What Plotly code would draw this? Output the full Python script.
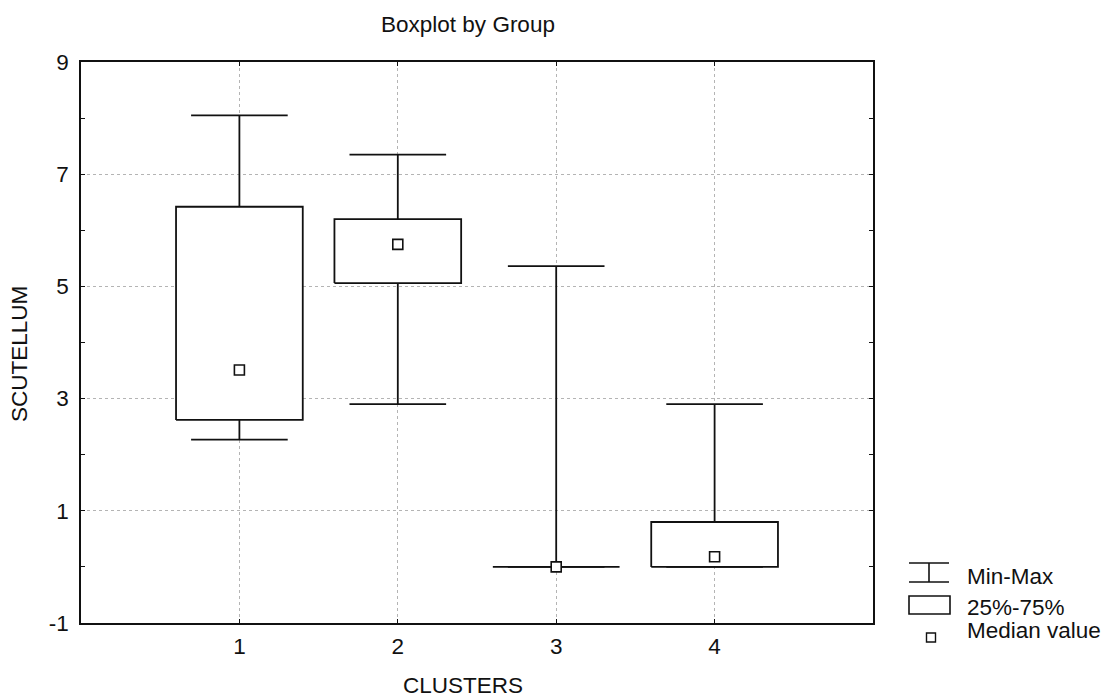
import plotly.graph_objects as go

# ---- data ----
clusters = [1, 2, 3, 4]
minimum = [2.27, 2.90, 0.0, 0.0]
q1 = [2.62, 5.06, 0.0, 0.0]
median = [3.51, 5.75, 0.0, 0.18]
q3 = [6.42, 6.20, 0.0, 0.80]
maximum = [8.05, 7.35, 5.36, 2.90]
y_tick_vals = [-1, 1, 3, 5, 7, 9]
y_tick_text = ["-1", "1", "3", "5", "7", "9"]
y_minor_ticks = [0, 2, 4, 6, 8]
x_tick_vals = [1, 2, 3, 4]
x_tick_text = ["1", "2", "3", "4"]

# ---- style constants ----
FONT = "Liberation Sans, Arial, Helvetica, sans-serif"
FS = 22.5
INK = "#111111"
BOX_HALF = 0.4
CAP_HALF = 0.305
LW = 1.8

W, H = 1107, 700
L, R, T, B = 81, 1107 - 873, 62, 700 - 623
PW, PH = W - L - R, H - T - B


def px_x(px):
    return (px - L) / PW


def px_y(py):
    return (H - B - py) / PH


fig = go.Figure()

# whiskers (upper: q3 -> max, lower: q1 -> min) with caps
wx, wy = [], []
for c, lo, a, b, hi in zip(clusters, minimum, q1, q3, maximum):
    wx += [c, c, None, c - CAP_HALF, c + CAP_HALF, None]
    wy += [b, hi, None, hi, hi, None]
    wx += [c, c, None, c - CAP_HALF, c + CAP_HALF, None]
    wy += [a, lo, None, lo, lo, None]
fig.add_trace(go.Scatter(x=wx, y=wy, mode="lines",
                         line=dict(color=INK, width=LW),
                         hoverinfo="skip", showlegend=False))

# boxes (25%-75%)
for c, a, b in zip(clusters, q1, q3):
    fig.add_trace(go.Scatter(
        x=[c - BOX_HALF, c + BOX_HALF, c + BOX_HALF, c - BOX_HALF, c - BOX_HALF],
        y=[a, a, b, b, a],
        mode="lines", fill="toself", fillcolor="white",
        line=dict(color=INK, width=LW),
        hoverinfo="skip", showlegend=False))

# medians
fig.add_trace(go.Scatter(x=clusters, y=median, mode="markers",
                         marker=dict(symbol="square", size=10, color="white",
                                     line=dict(color=INK, width=1.6)),
                         showlegend=False))

axis_common = dict(
    showline=True, linecolor=INK, linewidth=1.6, mirror="ticks",
    ticks="inside", ticklen=4, tickcolor=INK, tickwidth=1.2,
    showgrid=True, gridcolor="#b4b4b4", griddash="dot", gridwidth=1,
    zeroline=False,
    tickfont=dict(family=FONT, size=FS, color=INK),
)

fig.update_xaxes(range=[0, 5], tickvals=x_tick_vals, ticktext=x_tick_text,
                 ticklabelstandoff=2, **axis_common)
fig.update_yaxes(range=[-1, 9], tickvals=y_tick_vals, ticktext=y_tick_text,
                 ticklabelstandoff=6,
                 minor=dict(tickvals=y_minor_ticks, ticks="inside", ticklen=4,
                            tickcolor=INK, showgrid=False),
                 **axis_common)

annotations = [
    dict(text="CLUSTERS", x=px_x(463), y=px_y(685), xref="paper", yref="paper",
         showarrow=False, xanchor="center", yanchor="middle",
         font=dict(family=FONT, size=FS, color=INK)),
    dict(text="SCUTELLUM", x=px_x(19), y=px_y(354), xref="paper", yref="paper",
         showarrow=False, textangle=-90, xanchor="center", yanchor="middle",
         font=dict(family=FONT, size=FS, color=INK)),
    dict(text="Min-Max", x=px_x(965), y=px_y(576), xref="paper", yref="paper",
         showarrow=False, xanchor="left", yanchor="middle",
         font=dict(family=FONT, size=FS, color=INK)),
    dict(text="25%-75%", x=px_x(965), y=px_y(607), xref="paper", yref="paper",
         showarrow=False, xanchor="left", yanchor="middle",
         font=dict(family=FONT, size=FS, color=INK)),
    dict(text="Median value", x=px_x(965), y=px_y(630), xref="paper", yref="paper",
         showarrow=False, xanchor="left", yanchor="middle",
         font=dict(family=FONT, size=FS, color=INK)),
]

shape_line = dict(color=INK, width=1.6)
shapes = [
    # Min-Max icon
    dict(type="line", xref="paper", yref="paper", x0=px_x(909), x1=px_x(949),
         y0=px_y(563), y1=px_y(563), line=shape_line),
    dict(type="line", xref="paper", yref="paper", x0=px_x(909), x1=px_x(949),
         y0=px_y(582), y1=px_y(582), line=shape_line),
    dict(type="line", xref="paper", yref="paper", x0=px_x(929), x1=px_x(929),
         y0=px_y(563), y1=px_y(582), line=shape_line),
    # 25%-75% icon
    dict(type="rect", xref="paper", yref="paper", x0=px_x(909), x1=px_x(950),
         y0=px_y(596), y1=px_y(614), line=shape_line, fillcolor="white"),
    # Median icon
    dict(type="rect", xref="paper", yref="paper", x0=px_x(926.5), x1=px_x(935.5),
         y0=px_y(633), y1=px_y(642), line=dict(color=INK, width=1.4),
         fillcolor="white"),
]

fig.update_layout(
    width=W, height=H,
    margin=dict(l=L, r=R, t=T, b=B, pad=0),
    paper_bgcolor="white", plot_bgcolor="white",
    title=dict(text="Boxplot by Group", x=px_x(468), xref="paper", xanchor="center",
               y=1 - 24 / H, yref="container", yanchor="middle",
               font=dict(family=FONT, size=FS, color=INK)),
    annotations=annotations, shapes=shapes,
    showlegend=False,
)

fig.write_html("out.html")
